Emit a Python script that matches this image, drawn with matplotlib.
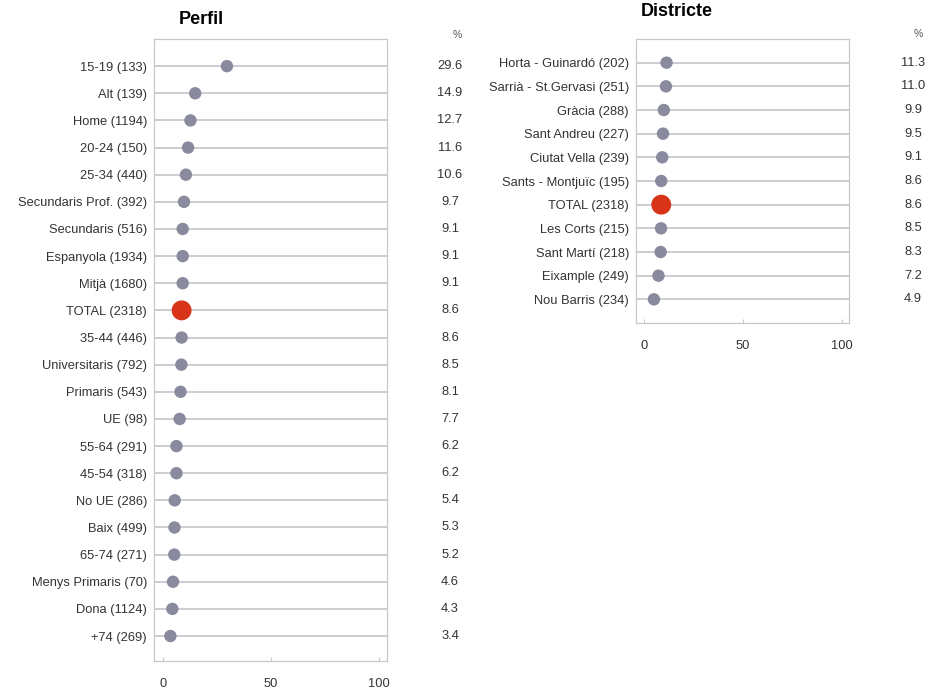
import matplotlib
matplotlib.use("Agg")
import matplotlib.pyplot as plt
from matplotlib.transforms import blended_transform_factory

plt.rcParams['font.family'] = ['Liberation Sans', 'DejaVu Sans']

perfil_labels = ["15-19 (133)", "Alt (139)", "Home (1194)", "20-24 (150)", "25-34 (440)",
                 "Secundaris Prof. (392)", "Secundaris (516)", "Espanyola (1934)", "Mitjà (1680)",
                 "TOTAL (2318)", "35-44 (446)", "Universitaris (792)", "Primaris (543)", "UE (98)",
                 "55-64 (291)", "45-54 (318)", "No UE (286)", "Baix (499)", "65-74 (271)",
                 "Menys Primaris (70)", "Dona (1124)", "+74 (269)"]
perfil_values = [29.6, 14.9, 12.7, 11.6, 10.6, 9.7, 9.1, 9.1, 9.1, 8.6, 8.6, 8.5, 8.1, 7.7,
                 6.2, 6.2, 5.4, 5.3, 5.2, 4.6, 4.3, 3.4]

districte_labels = ["Horta - Guinardó (202)", "Sarrià - St.Gervasi (251)", "Gràcia (288)",
                    "Sant Andreu (227)", "Ciutat Vella (239)", "Sants - Montjuïc (195)",
                    "TOTAL (2318)", "Les Corts (215)", "Sant Martí (218)", "Eixample (249)",
                    "Nou Barris (234)"]
districte_values = [11.3, 11.0, 9.9, 9.5, 9.1, 8.6, 8.6, 8.5, 8.3, 7.2, 4.9]

x_ticks = [0, 50, 100]

W, H = 932, 691
fig = plt.figure(figsize=(W / 100, H / 100), dpi=100)

GRAY = "#8a8a9e"
RED = "#d8341a"
LINE = "#c4c4cc"
SPINE = "#c8c8c8"
TXT = "#333333"
FS = 9.3


def panel(rect, labels, values, ylim, title, title_xy, val_x, pct_x, pct_y):
    ax = fig.add_axes(rect)
    n = len(labels)
    ys = list(range(n))
    for y in ys:
        ax.axhline(y, color=LINE, lw=1.2, zorder=1)
    for y, v, lab in zip(ys, values, labels):
        if lab.startswith("TOTAL"):
            ax.scatter([v], [y], s=205, color=RED, zorder=3, edgecolors='none')
        else:
            ax.scatter([v], [y], s=80, color=GRAY, zorder=3, edgecolors='none')
    ax.set_xlim(-4.2, 103.8)
    ax.set_ylim(*ylim)
    ax.set_yticks(ys)
    ax.set_yticklabels(labels, fontsize=FS, color=TXT)
    ax.tick_params(axis='y', length=0, pad=5)
    ax.set_xticks(x_ticks)
    ax.set_xticklabels([str(t) for t in x_ticks], fontsize=FS, color=TXT)
    ax.tick_params(axis='x', direction='in', length=3, color=SPINE, pad=12)
    for s in ax.spines.values():
        s.set_color(SPINE)
        s.set_linewidth(0.9)
    tr = blended_transform_factory(fig.transFigure, ax.transData)
    for y, v in zip(ys, values):
        ax.text(val_x / W, y, f"{v:.1f}", transform=tr, ha='center', va='center',
                fontsize=FS, color=TXT, clip_on=False)
    fig.text(pct_x / W, 1 - pct_y / H, "%", ha='center', va='center', fontsize=7.5, color="#555555")
    fig.text(title_xy[0] / W, 1 - title_xy[1] / H, title, ha='center', va='center',
             fontsize=13, fontweight='bold', color='black')
    return ax


panel([154 / W, 1 - 661 / H, (387 - 154) / W, (661 - 39) / H],
      perfil_labels, perfil_values, (21.92, -1.0), "Perfil", (201, 19), 450, 457, 35)
panel([636 / W, 1 - 323 / H, (849 - 636) / W, (323 - 39) / H],
      districte_labels, districte_values, (11.0, -1.0), "Districte", (677, 12), 913, 918, 34)

fig.savefig("out.png", dpi=100)
